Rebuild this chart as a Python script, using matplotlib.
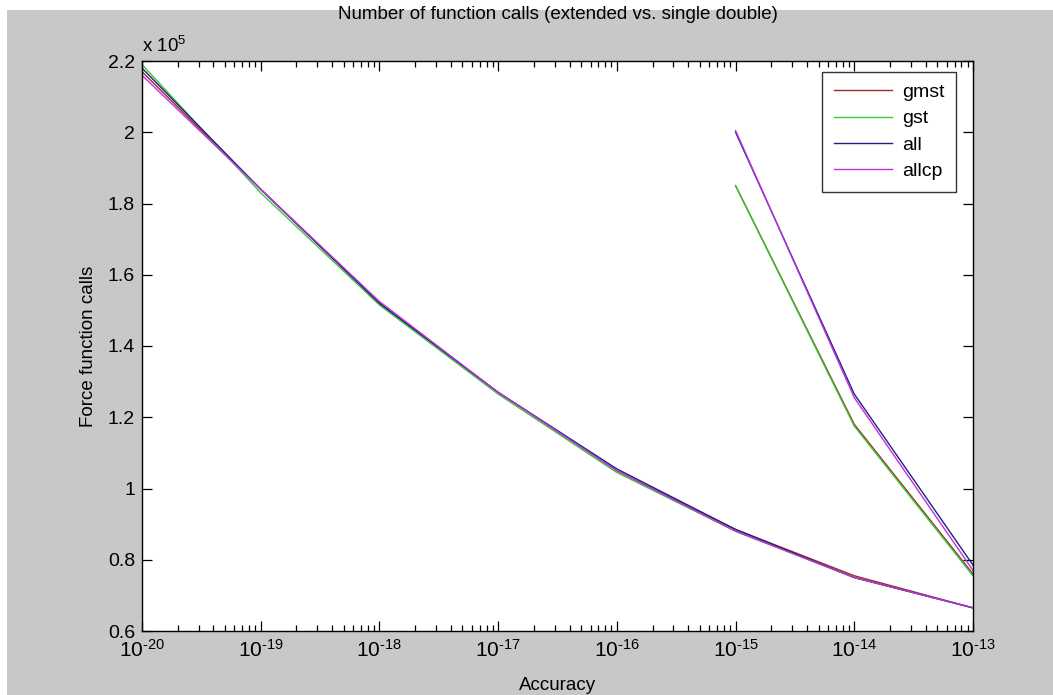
import matplotlib
matplotlib.use("Agg")
import matplotlib.pyplot as plt
from matplotlib.ticker import FixedLocator, FuncFormatter, NullFormatter
from matplotlib.patches import Rectangle

plt.rcParams['font.family'] = ['Liberation Sans', 'DejaVu Sans']
plt.rcParams['mathtext.fontset'] = 'custom'
plt.rcParams['mathtext.rm'] = 'Liberation Sans'
plt.rcParams['mathtext.it'] = 'Liberation Sans'
plt.rcParams['mathtext.default'] = 'regular'

# Data
x_ext = [1e-20, 1e-19, 1e-18, 1e-17, 1e-16, 1e-15, 1e-14, 1e-13]
gmst_ext = [217000, 184000, 152000, 127000, 105000, 88500, 75500, 66500]
gst_ext = [219000, 183000, 151500, 126500, 104500, 88000, 75000, 66500]
all_ext = [218000, 184000, 152000, 127000, 105500, 88500, 75000, 66500]
allcp_ext = [216000, 184000, 152500, 127000, 105000, 88000, 75000, 66500]

x_dbl = [1e-15, 1e-14, 1e-13]
gmst_dbl = [185000, 118000, 76000]
gst_dbl = [185000, 117500, 75500]
all_dbl = [200000, 126500, 78500]
allcp_dbl = [200500, 125500, 77000]

series_names = ['gmst', 'gst', 'all', 'allcp']
colors = ['#a02828', '#33cc33', '#202080', '#c030e0']
y_ticks = [60000, 80000, 100000, 120000, 140000, 160000, 180000, 200000, 220000]
x_exponents = [-20, -19, -18, -17, -16, -15, -14, -13]

fig = plt.figure(figsize=(10.53, 6.95), dpi=100)
fig.patch.set_facecolor('#c8c8c8')
# white screenshot border at top and left
fig.patches.append(Rectangle((0, 1 - 10/695), 1, 10/695, transform=fig.transFigure,
                             facecolor='white', edgecolor='none', zorder=-1))
fig.patches.append(Rectangle((0, 0), 7/1053, 1, transform=fig.transFigure,
                             facecolor='white', edgecolor='none', zorder=-1))

ax = fig.add_axes([142/1053, 64/695, 831/1053, 570/695])
ax.set_facecolor('white')

ext_data = [gmst_ext, gst_ext, all_ext, allcp_ext]
dbl_data = [gmst_dbl, gst_dbl, all_dbl, allcp_dbl]
for name, c, ye in zip(series_names, colors, ext_data):
    ax.plot(x_ext, ye, color=c, lw=1.0, label=name)
for c, yd in zip(colors, dbl_data):
    ax.plot(x_dbl, yd, color=c, lw=1.0)

ax.set_xscale('log')
ax.set_xlim(1e-20, 1e-13)
ax.set_ylim(60000, 220000)
ax.yaxis.set_major_locator(FixedLocator(y_ticks))
ax.yaxis.set_major_formatter(FuncFormatter(lambda v, p: f"{v/1e5:g}"))

major_x = [10.0 ** e for e in x_exponents]
minor_x = [m * 10.0 ** e for e in x_exponents[:-1] for m in range(2, 10)]
ax.xaxis.set_major_locator(FixedLocator(major_x))
ax.xaxis.set_minor_locator(FixedLocator(minor_x))
ax.xaxis.set_minor_formatter(NullFormatter())
ax.set_xticklabels(["10$^{\u2010" + str(abs(e)) + "}$" for e in x_exponents])

ax.tick_params(which='both', direction='in', top=True, right=True, color='black')
ax.tick_params(which='major', length=7, width=0.9)
ax.tick_params(which='minor', length=4, width=0.9)
ax.tick_params(axis='y', labelsize=14, pad=5)
ax.tick_params(axis='x', labelsize=15, pad=6)
for s in ax.spines.values():
    s.set_linewidth(1.0)
    s.set_color('black')

ax.set_title('Number of function calls (extended vs. single double)', fontsize=13.5, pad=30)
ax.set_xlabel('Accuracy', fontsize=13.5, labelpad=11)
ax.set_ylabel('Force function calls', fontsize=13.5, labelpad=8)
ax.text(0.0, 1.008, r'x 10$^{5}$', transform=ax.transAxes, fontsize=13.5,
        ha='left', va='bottom')

leg = ax.legend(loc='upper right', bbox_to_anchor=(0.9795, 0.981), fontsize=14,
                fancybox=False, frameon=True, handlelength=3.0, labelspacing=0.45,
                borderpad=0.6, handletextpad=0.5, borderaxespad=0)
leg.get_frame().set_edgecolor('black')
leg.get_frame().set_linewidth(1.0)

fig.savefig('out.png', dpi=100, facecolor=fig.get_facecolor())
